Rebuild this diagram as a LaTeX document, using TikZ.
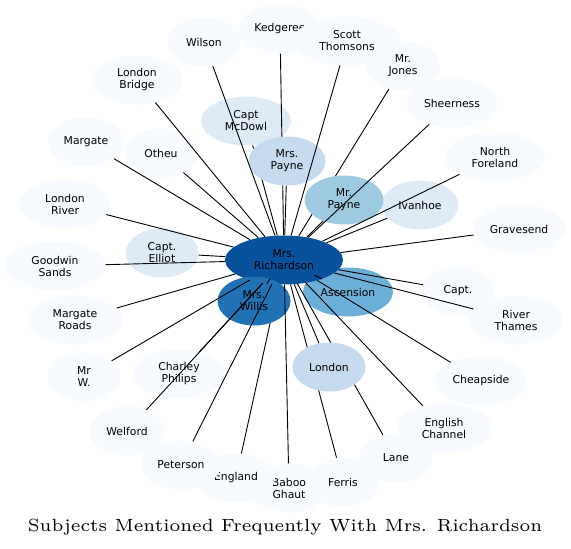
\documentclass[tikz,border=0pt]{standalone}
\usepackage{fontspec}
\usepackage{xcolor}
\usepackage{tikz}
\newfontfamily\labelfont{DejaVu Sans}
\definecolor{blueA}{HTML}{F7FBFF}
\definecolor{blueB}{HTML}{DEEBF7}
\definecolor{blueC}{HTML}{C6DBEF}
\definecolor{blueD}{HTML}{9ECAE1}
\definecolor{blueE}{HTML}{6BAED6}
\definecolor{blueF}{HTML}{2171B5}
\definecolor{blueG}{HTML}{08519C}
\usetikzlibrary{shapes.geometric}

\begin{document}
\begin{tikzpicture}[
  x=1pt, y=-1pt,
  topic/.style={ellipse, fill=blueA, minimum width=73pt, minimum height=49pt, inner sep=0pt, align=center, font=\labelfont\fontsize{10.8}{12}\selectfont},
  link/.style={line width=0.9pt, black}
]
\useasboundingbox (0,0) rectangle (571,549);

% subjects mentioned only a few times
\node[topic] (wilson) at (204,42) {Wilson};
\node[topic, minimum width=84pt] (kedgeree) at (280,29) {Kedgeree};
\node[topic, minimum width=108pt] (scott) at (347,41) {Scott\\Thomsons};
\node[topic, minimum width=74pt] (jones) at (403,66) {Mr.\\Jones};
\node[topic, minimum width=91pt] (sheerness) at (452,103) {Sheerness};
\node[topic, minimum width=100pt] (foreland) at (495,157) {North\\Foreland};
\node[topic, minimum width=93pt] (gravesend) at (519,229) {Gravesend};
\node[topic, minimum width=72pt] (capt) at (458,291) {Capt.};
\node[topic, minimum width=95pt] (thames) at (516,320) {River\\Thames};
\node[topic, minimum width=92pt] (cheapside) at (481,381) {Cheapside};
\node[topic, minimum width=95pt] (channel) at (444,428) {English\\Channel};
\node[topic] (lane) at (396,458) {Lane};
\node[topic, minimum width=78pt] (baboo) at (289,488) {Baboo\\Ghaut};
\node[topic] (ferris) at (343,482) {Ferris};
\node[topic, minimum width=78pt] (england) at (236,478) {England};
\node[topic, minimum width=80pt] (peterson) at (181,465) {Peterson};
\node[topic, minimum width=75pt] (welford) at (127,431) {Welford};
\node[topic] (mrw) at (84,377) {Mr\\W.};
\node[topic, minimum width=91pt] (charley) at (179,374) {Charley\\Philips};
\node[topic, minimum width=95pt] (roads) at (75,320) {Margate\\Roads};
\node[topic, minimum width=101pt] (goodwin) at (55,266) {Goodwin\\Sands};
\node[topic, minimum width=91pt] (river) at (65,204) {London\\River};
\node[topic, minimum width=76pt] (margate) at (86,142) {Margate};
\node[topic] (otheu) at (161,153) {Otheu};
\node[topic, minimum width=90pt] (bridge) at (137,80) {London\\Bridge};

% more frequent subjects
\node[topic, fill=blueB, minimum width=90pt] (mcdowl) at (246,121) {Capt\\McDowl};
\node[topic, fill=blueB, minimum width=77pt] (ivanhoe) at (420,205) {Ivanhoe};
\node[topic, fill=blueB] (elliot) at (162,253) {Capt.\\Elliot};
\node[topic, fill=blueE, minimum width=90pt] (ascension) at (348,292) {Ascension};
\node[topic, fill=blueG, minimum width=118pt] (rich) at (284,260) {Mrs.\\Richardson};

\draw[link] (rich) -- (kedgeree);
\draw[link] (rich) -- (mcdowl);
\draw[link] (rich) -- (jones);
\draw[link] (rich) -- (ferris);
\draw[link] (rich) -- (lane);
\draw[link] (rich) -- (england);

\node[topic, fill=blueC, minimum width=77pt] (mrspayne) at (287,161) {Mrs.\\Payne};
\node[topic, fill=blueD, minimum width=79pt] (mrpayne) at (344,200) {Mr.\\Payne};
\node[topic, fill=blueC] (london) at (329,367) {London};
\node[topic, fill=blueF] (willis) at (254,301) {Mrs.\\Willis};

\draw[link] (rich) -- (mrspayne);
\draw[link] (rich) -- (mrpayne);
\draw[link] (rich) -- (london);
\draw[link] (rich) -- (willis);
\draw[link] (rich) -- (ascension);
\draw[link] (rich) -- (ivanhoe);
\draw[link] (rich) -- (elliot);
\draw[link] (rich) -- (wilson);
\draw[link] (rich) -- (scott);
\draw[link] (rich) -- (sheerness);
\draw[link] (rich) -- (foreland);
\draw[link] (rich) -- (gravesend);
\draw[link] (rich) -- (capt);
\draw[link] (rich) -- (thames);
\draw[link] (rich) -- (cheapside);
\draw[link] (rich) -- (channel);
\draw[link] (rich) -- (baboo);
\draw[link] (rich) -- (peterson);
\draw[link] (rich) -- (welford);
\draw[link] (rich) -- (mrw);
\draw[link] (rich) -- (charley);
\draw[link] (rich) -- (roads);
\draw[link] (rich) -- (goodwin);
\draw[link] (rich) -- (river);
\draw[link] (rich) -- (margate);
\draw[link] (rich) -- (otheu);
\draw[link] (rich) -- (bridge);

\node[anchor=base] (title) at (285,531) {\scalebox{2.94}{\fontsize{6}{7}\selectfont Subjects Mentioned Frequently With Mrs. Richardson}};
\end{tikzpicture}
\end{document}
